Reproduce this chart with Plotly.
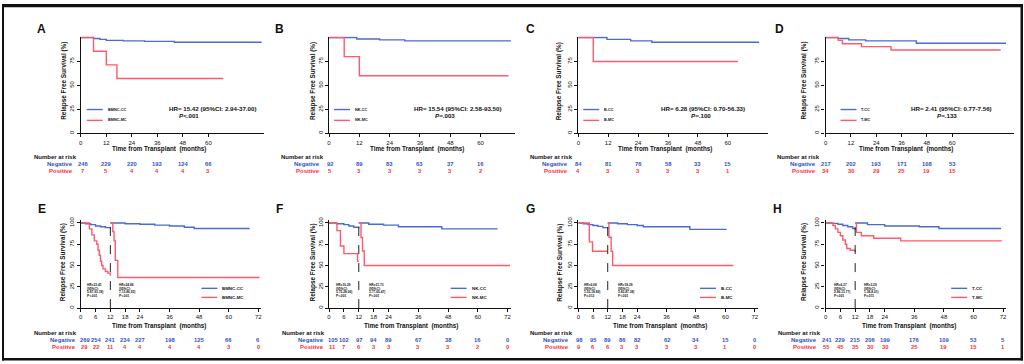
import plotly.graph_objects as go

W, H = 1024, 364
FONT = "Liberation Sans"
BLUE = "#4a6bd0"
RED = "#ff5a6b"
TXT_BLUE = "#3352c8"
TXT_RED = "#ff2c3c"

# ------------------------------------------------------------------ data
letters = ["A", "B", "C", "D", "E", "F", "G", "H"]
names_cc = ["BMNC-CC", "NK-CC", "B-CC", "T-CC", "BMNC-CC", "NK-CC", "B-CC", "T-CC"]
names_mc = ["BMNC-MC", "NK-MC", "B-MC", "T-MC", "BMNC-MC", "NK-MC", "B-MC", "T-MC"]

top_ticks = [0, 12, 24, 36, 48, 60]
bottom_ticks = [0, 6, 12, 18, 24, 36, 48, 60, 72]
top_yticks = [0, 25, 50, 75]
bottom_yticks = [0, 25, 50, 75, 100]
landmark = 12

# top row (whole follow-up)
a_cc_t = [0, 6, 9, 12, 20, 30, 44, 85]
a_cc_s = [100, 99, 98, 97, 96.5, 96, 95, 95]
a_mc_t = [0, 6, 12, 17, 67]
a_mc_s = [100, 85.7, 71.4, 57.1, 57.1]

b_cc_t = [0, 11, 20, 30, 72]
b_cc_s = [100, 98.5, 97.5, 96.5, 96.5]
b_mc_t = [0, 6, 12, 71]
b_mc_s = [100, 80, 60, 60]

c_cc_t = [0, 11.5, 21, 29.5, 72.5]
c_cc_s = [100, 98, 96.5, 95, 95]
c_mc_t = [0, 6, 64]
c_mc_s = [100, 75, 75]

d_cc_t = [0, 6, 11, 19, 43, 85.5]
d_cc_s = [100, 99, 97.5, 96.5, 94, 94]
d_mc_t = [0, 6, 8, 17, 31, 83]
d_mc_s = [100, 97, 93.5, 90.5, 87, 87]

# bottom row (landmark at 12 months)
e_cc_pre_t = [0, 2, 4, 6, 8, 10, 12]
e_cc_pre_s = [100, 99, 98, 96.5, 95.5, 94.5, 93.5]
e_cc_post_t = [12, 18, 24, 30, 36, 42, 46, 68.5]
e_cc_post_s = [100, 99, 98.5, 97.5, 96.5, 95, 93.5, 93.5]
e_mc_pre_t = [0, 3.5, 4.5, 5.5, 6.5, 7, 7.5, 8, 8.5, 9, 10, 11, 12]
e_mc_pre_s = [100, 93, 86, 79, 75, 68, 62, 55, 50, 46, 43, 41, 38]
e_mc_post_t = [12, 13, 13.5, 14, 15, 72.5]
e_mc_post_s = [100, 90, 79, 56, 36, 36]

f_cc_pre_t = [0, 3, 6, 8, 10, 12]
f_cc_pre_s = [100, 99, 98, 96.5, 95, 93.5]
f_cc_post_t = [12, 16, 22, 28, 45.5, 68]
f_cc_post_s = [100, 98.5, 97.5, 95.5, 93, 93]
f_mc_pre_t = [0, 3.2, 4.6, 6, 11.5, 12]
f_mc_pre_s = [100, 91, 73, 64, 55, 55]
f_mc_post_t = [12, 12.9, 13.5, 14.2, 73]
f_mc_post_s = [100, 83, 67, 50, 50]

g_cc_pre_t = [0, 2, 4, 6, 8, 10, 12]
g_cc_pre_s = [100, 99, 98, 97, 96, 94.5, 93]
g_cc_post_t = [12, 16, 20, 24, 26.5, 45.5, 60.5]
g_cc_post_s = [100, 99, 98, 97, 95.5, 92.5, 92.5]
g_mc_pre_t = [0, 4.5, 5.8, 12]
g_mc_pre_s = [100, 77.8, 66.7, 66.7]
g_mc_post_t = [12, 12.5, 13.4, 14, 63.2]
g_mc_post_s = [100, 83.3, 66.7, 50, 50]

h_cc_pre_t = [0, 2.5, 5, 7, 9, 11, 12]
h_cc_pre_s = [100, 99.5, 98.5, 97, 95.5, 93.5, 91.5]
h_cc_post_t = [12, 17, 24, 38, 46, 71.2]
h_cc_post_s = [100, 98, 96.5, 95.5, 93.5, 93.5]
h_mc_pre_t = [0, 3, 4, 5, 6, 7, 8, 8.6, 10, 12]
h_mc_pre_s = [100, 97, 93, 89, 85, 80, 75, 70, 68, 66]
h_mc_post_t = [12, 12.5, 14.5, 19.5, 30.5, 71.5]
h_mc_post_s = [100, 89, 85, 82, 79, 79]

# numbers at risk
a_neg = [246, 229, 220, 193, 124, 66]
a_pos = [7, 5, 4, 4, 4, 3]
b_neg = [92, 89, 83, 63, 37, 16]
b_pos = [5, 3, 3, 3, 3, 2]
c_neg = [84, 81, 76, 58, 33, 15]
c_pos = [4, 3, 3, 3, 3, 1]
d_neg = [217, 202, 193, 171, 108, 53]
d_pos = [34, 30, 29, 25, 19, 15]
e_neg = [269, 254, 241, 234, 227, 198, 125, 66, 6]
e_pos = [29, 22, 11, 4, 4, 4, 4, 3, 0]
f_neg = [105, 102, 97, 94, 89, 67, 38, 16, 0]
f_pos = [11, 7, 6, 3, 3, 3, 3, 2, 0]
g_neg = [98, 95, 89, 86, 82, 62, 34, 15, 0]
g_pos = [9, 6, 6, 3, 3, 3, 3, 1, 0]
h_neg = [241, 229, 215, 206, 199, 176, 109, 53, 5]
h_pos = [55, 45, 35, 30, 30, 25, 19, 15, 1]

# statistics text
hr_top = ["HR= 15.42 (95%CI: 2.94-37.00)", "HR= 15.54 (95%CI: 2.58-93.50)",
          "HR= 6.28 (95%CI: 0.70-56.33)", "HR= 2.41 (95%CI: 0.77-7.56)"]
p_top = ["<.001", "=.003", "=.100", "=.133"]
hr_pre = [("HR=23.41", "5.87-93.18)", "P<.001"), ("HR=10.29", "3.75-28.06)", "P<.001"),
          ("HR=6.08", "1.53-18.89)", "P=.012"), ("HR=6.37", "2.86-13.77)", "P<.001")]
hr_post = [("HR=24.86", "7.13-86.55)", "P<.001"), ("HR=21.73", "3.77-65.47)", "P<.001"),
           ("HR=18.29", "3.83-87.38)", "P<.001"), ("HR=3.29", "1.38-8.01)", "P=.011")]

top_curves = [(a_cc_t, a_cc_s, a_mc_t, a_mc_s), (b_cc_t, b_cc_s, b_mc_t, b_mc_s),
              (c_cc_t, c_cc_s, c_mc_t, c_mc_s), (d_cc_t, d_cc_s, d_mc_t, d_mc_s)]
bottom_curves = [
    ((e_cc_pre_t, e_cc_pre_s), (e_cc_post_t, e_cc_post_s), (e_mc_pre_t, e_mc_pre_s), (e_mc_post_t, e_mc_post_s)),
    ((f_cc_pre_t, f_cc_pre_s), (f_cc_post_t, f_cc_post_s), (f_mc_pre_t, f_mc_pre_s), (f_mc_post_t, f_mc_post_s)),
    ((g_cc_pre_t, g_cc_pre_s), (g_cc_post_t, g_cc_post_s), (g_mc_pre_t, g_mc_pre_s), (g_mc_post_t, g_mc_post_s)),
    ((h_cc_pre_t, h_cc_pre_s), (h_cc_post_t, h_cc_post_s), (h_mc_pre_t, h_mc_pre_s), (h_mc_post_t, h_mc_post_s)),
]
risk = [(a_neg, a_pos), (b_neg, b_pos), (c_neg, c_pos), (d_neg, d_pos),
        (e_neg, e_pos), (f_neg, f_pos), (g_neg, g_pos), (h_neg, h_pos)]

# ------------------------------------------------------------------ geometry (pixels)
geo = [
    dict(x0=79, x1=263, xr=86.25, lx=40, ytx=62, xtx=157, nar=30, lab_r=73, leg=85, hr=(212, 188), s0=2),
    dict(x0=328, x1=515, xr=73.8, lx=278, ytx=312, xtx=416, nar=278, lab_r=321, leg=333, hr=(457, 444), s0=1),
    dict(x0=578, x1=768, xr=76.0, lx=530, ytx=559, xtx=665, nar=528, lab_r=570, leg=583, hr=(703, 701), s0=0),
    dict(x0=826, x1=1015, xr=89.3, lx=780, ytx=804, xtx=907, nar=775, lab_r=818, leg=841, hr=(952, 948), s0=0),
    dict(x0=79, x1=260, xr=73.2, lx=40, ytx=62, xtx=157, nar=30, lab_r=76, leg=200, b=(83, 115), s0=4),
    dict(x0=328, x1=510, xr=73.2, lx=278, ytx=312, xtx=410, nar=279, lab_r=325, leg=450, b=(333, 366), s0=3.5),
    dict(x0=578, x1=758, xr=73.2, lx=530, ytx=560, xtx=660, nar=528, lab_r=571, leg=700, b=(582, 616), s0=1),
    dict(x0=826, x1=1007, xr=73.2, lx=778, ytx=805, xtx=910, nar=776, lab_r=819, leg=952, b=(832, 863), s0=1),
]
ROWS = [dict(yb=131, yt=33, yr=101, ly=25, ytit=78, xt=147, nar=155, neg=162, pos=169, legy=(107, 118)),
        dict(yb=308.3, yt=219, yr=103.5, ly=208, ytit=262, xt=326, nar=334, neg=340.5, pos=347.5, legy=(288.3, 297.5))]


def fx(p):
    return p / W


def fy(p):
    return 1 - p / H


def note(text, x, y, size, color="#111", xanchor="center", xref="paper", **kw):
    return dict(text=text, x=x, y=y, xref=xref, yref="paper", xanchor=xanchor, yanchor="middle",
                showarrow=False, font=dict(family=FONT, size=size, color=color), **kw)


fig = go.Figure()
ann = []
shapes = []
layout = {}

for i in range(8):
    g = geo[i]
    row = ROWS[0] if i < 4 else ROWS[1]
    n = i + 1
    xr_ = "x" if n == 1 else f"x{n}"
    yr_ = "y" if n == 1 else f"y{n}"
    xk = "xaxis" if n == 1 else f"xaxis{n}"
    yk = "yaxis" if n == 1 else f"yaxis{n}"
    ticks = top_ticks if i < 4 else bottom_ticks
    yt = top_yticks if i < 4 else bottom_yticks
    common = dict(showline=True, linecolor="#111", linewidth=1.2, ticks="outside", ticklen=3,
                  tickwidth=1, tickcolor="#111", showgrid=False, zeroline=False, fixedrange=True,
                  tickfont=dict(family=FONT, size=6, color="#111"))
    layout[xk] = dict(domain=[fx(g["x0"]), fx(g["x1"])], range=[0, g["xr"]], anchor=yr_,
                      tickvals=ticks, ticktext=[str(t) for t in ticks], **common)
    layout[yk] = dict(domain=[fy(row["yb"]), fy(row["yt"])], range=[0, row["yr"]], anchor=xr_,
                      tickvals=yt, ticktext=[str(t) for t in yt], tickangle=-90, **common)

    if i < 4:
        ct, cs, mt, ms = top_curves[i]
        segs = [(ct, cs, BLUE), (mt, ms, RED)]
    else:
        cpre, cpost, mpre, mpost = bottom_curves[i - 4]
        segs = [(cpre[0], cpre[1], BLUE), (cpost[0], cpost[1], BLUE),
                (mpre[0], mpre[1], RED), (mpost[0], mpost[1], RED)]
        shapes.append(dict(type="line", xref=xr_, yref=f"{yr_} domain", x0=landmark, x1=landmark,
                           y0=0, y1=1, line=dict(color="#222", width=1, dash="dash")))
    for t, s, col in segs:
        fig.add_trace(go.Scatter(x=t, y=s, mode="lines", line=dict(color=col, width=1.4, shape="hv"),
                                 xaxis=xr_, yaxis=yr_, showlegend=False, hoverinfo="skip"))

    ann.append(note(f"<b>{letters[i]}</b>", fx(g["lx"]), fy(row["ly"]), 12))
    ann.append(note("<b>Relapse Free Survival (%)</b>", fx(g["ytx"]), fy(row["ytit"]), 6.4, textangle=-90))
    ann.append(note("<b>Time from Transplant \u00a0(months)</b>", fx(g["xtx"]), fy(row["xt"]), 6.3))
    ann.append(note("<b>Number at risk</b>", fx(g["nar"]), fy(row["nar"]), 6, xanchor="left"))
    ann.append(note("<b>Negative</b>", fx(g["lab_r"]), fy(row["neg"]), 6, TXT_BLUE, xanchor="right"))
    ann.append(note("<b>Positive</b>", fx(g["lab_r"]), fy(row["pos"]), 6, TXT_RED, xanchor="right"))
    neg, pos = risk[i]
    for k, (t, v) in enumerate(zip(ticks, neg)):
        ann.append(note(f"<b>{v}</b>", t, fy(row["neg"]), 5.8, TXT_BLUE, xref=xr_, xshift=g["s0"] if k == 0 else 0))
    for k, (t, v) in enumerate(zip(ticks, pos)):
        ann.append(note(f"<b>{v}</b>", t, fy(row["pos"]), 5.8, TXT_RED, xref=xr_, xshift=g["s0"] if k == 0 else 0))
    lfs = 3.8 if i < 4 else 4.4
    for nm, col, ly in [(names_cc[i], BLUE, row["legy"][0]), (names_mc[i], RED, row["legy"][1])]:
        shapes.append(dict(type="line", xref="paper", yref="paper", x0=fx(g["leg"]), x1=fx(g["leg"] + 16),
                           y0=fy(ly), y1=fy(ly), line=dict(color=col, width=1.4)))
        ann.append(note(f"<b>{nm}</b>", fx(g["leg"] + 19), fy(ly), lfs, xanchor="left"))
    if i < 4:
        ann.append(note(f"<b>{hr_top[i]}</b>", fx(g["hr"][0]), fy(106), 6.2))
        ann.append(note(f"<b><i>P</i>{p_top[i]}</b>", fx(g["hr"][1]), fy(113.3), 6.2))
    else:
        for bx, (h1, ci, pv) in zip(g["b"], [hr_pre[i - 4], hr_post[i - 4]]):
            ann.append(note(f"<b>{h1}<br>(95%CI:</b>", fx(bx), fy(287), 3.2, xanchor="left", align="left"))
            ann.append(note(f"<b>{ci}<br>{pv}</b>", fx(bx), fy(294.5), 3.2, xanchor="left", align="left"))

# outer frame
for x0, y0, x1, y1 in [(0, 0, 1024, 3.3), (0, 0, 2, 361.5), (1021.5, 0, 1024, 361.5), (0, 359, 1024, 361.5)]:
    shapes.append(dict(type="rect", xref="paper", yref="paper", x0=fx(x0), x1=fx(x1), y0=fy(y1), y1=fy(y0),
                       fillcolor="#111", line=dict(width=0)))

fig.update_layout(width=W, height=H, autosize=False, margin=dict(l=0, r=0, t=0, b=0),
                  paper_bgcolor="white", plot_bgcolor="rgba(0,0,0,0)", annotations=ann, shapes=shapes,
                  font=dict(family=FONT), **layout)
fig.write_html("out.html", config={"displayModeBar": False},
               post_script="document.body.style.margin='0';document.body.style.overflow='hidden';")
